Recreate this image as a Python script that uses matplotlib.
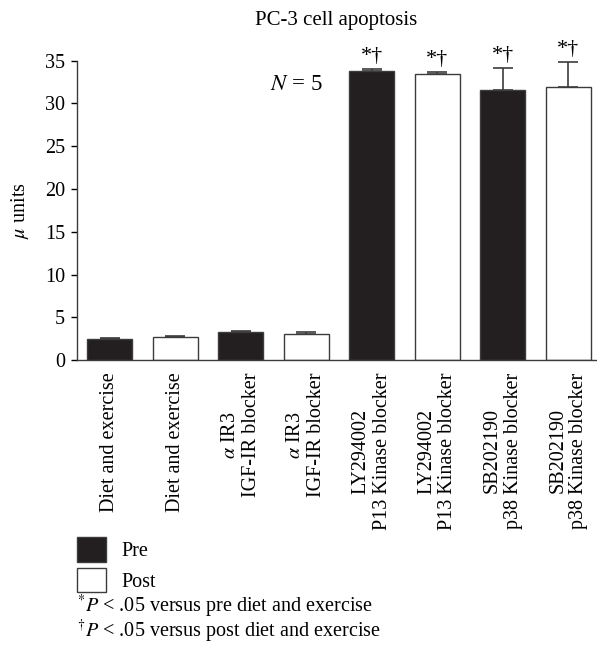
import numpy as np
import matplotlib
matplotlib.use("AGG")
from matplotlib import pyplot as plt

plt.rcParams["font.family"] = ["Liberation Serif", "DejaVu Serif"]
plt.rcParams["mathtext.fontset"] = "stix"

# bar data, left to right
labels = [
    "Diet and exercise",
    "Diet and exercise",
    "$\\alpha$ IR3\nIGF-IR blocker",
    "$\\alpha$ IR3\nIGF-IR blocker",
    "LY294002\nP13 Kinase blocker",
    "LY294002\nP13 Kinase blocker",
    "SB202190\np38 Kinase blocker",
    "SB202190\np38 Kinase blocker",
]
phase = ["Pre", "Post", "Pre", "Post", "Pre", "Post", "Pre", "Post"]
means = [2.45, 2.65, 3.3, 3.1, 33.8, 33.45, 31.6, 31.9]
errs = [0.12, 0.12, 0.08, 0.2, 0.22, 0.25, 2.6, 2.95]
marks = ["", "", "", "", "*†", "*†", "*†", "*†"]

dark = "#231f20"
edge = "#3c3c3c"
fs = 14.5

fig = plt.figure(figsize=(5.97, 6.48), dpi=100)
ax = fig.add_axes([0.129, 0.4444, 0.869, 0.4619])

x = np.arange(len(means))
handles = {}
for i in x:
    face = dark if phase[i] == "Pre" else "white"
    b = ax.bar(i, means[i], width=0.69, color=face, edgecolor=edge, linewidth=1.0,
               label=phase[i], zorder=2)
    handles.setdefault(phase[i], b[0])
    ax.errorbar(i, means[i], yerr=[[0], [errs[i]]], fmt="none", ecolor=edge,
                elinewidth=1.2, capsize=7.5, capthick=1.2, zorder=3)
    if marks[i]:
        ax.annotate(marks[i], (i, means[i] + errs[i]), xytext=(0, 2),
                    textcoords="offset points", ha="center", va="bottom", fontsize=16)

ax.set_xlim(-0.5, 7.42)
ax.set_ylim(0, 35)
ax.set_yticks(range(0, 36, 5))
ax.set_xticks(x)
ax.set_xticklabels(labels, rotation=90, ha="center", va="top", multialignment="center",
                   fontsize=fs, linespacing=1.15)
ax.tick_params(axis="x", length=0, pad=9)
ax.tick_params(axis="y", direction="out", length=4, width=1, labelsize=fs, pad=4.5)
for s in ["top", "right"]:
    ax.spines[s].set_visible(False)
for s in ["left", "bottom"]:
    ax.spines[s].set_color(edge)
    ax.spines[s].set_linewidth(1.0)

ax.set_ylabel("$\\mu$ units", fontsize=fs, labelpad=10)
ax.set_title("PC-3 cell apoptosis", fontsize=15, pad=26)
ax.text(2.84, 32.2, "$N$ = 5", fontsize=16.5, ha="center", va="center")

fig.legend([handles["Pre"], handles["Post"]], ["Pre", "Post"], loc="upper left",
           bbox_to_anchor=(0.129, 1 - 537 / 648), frameon=False, fontsize=fs,
           handlelength=1.45, handleheight=1.5, handletextpad=0.75, labelspacing=0.3,
           borderpad=0, borderaxespad=0)
fig.text(0.129, 1 - 606 / 648, "$^{*}P$ < .05 versus pre diet and exercise",
         fontsize=fs, va="center")
fig.text(0.129, 1 - 631 / 648, "$^{\\dagger}P$ < .05 versus post diet and exercise",
         fontsize=fs, va="center")

fig.savefig("out.png", dpi=100)
